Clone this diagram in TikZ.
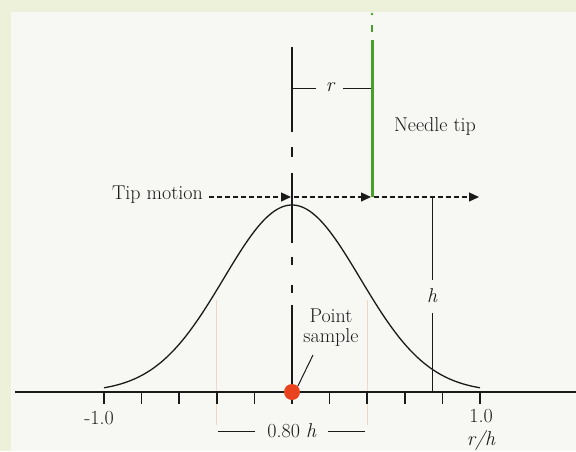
\documentclass[tikz,border=0pt]{standalone}
\usetikzlibrary{arrows.meta}
\definecolor{outerbg}{HTML}{EDF1D9}
\definecolor{innerbg}{HTML}{F7F8F3}
\definecolor{needle}{HTML}{46A02A}
\definecolor{dotred}{HTML}{E8431E}
\definecolor{faint}{HTML}{F0D6C6}
\definecolor{ink}{HTML}{1A1A1A}
\tikzset{
  lbl/.style={inner sep=0pt, font=\fontsize{20}{20}\selectfont, text=ink},
  ilbl/.style={lbl, font=\fontsize{20}{20}\selectfont\itshape},
  mainline/.style={draw=ink, line width=1.3pt},
  thinline/.style={draw=ink, line width=1pt},
  motion/.style={draw=ink, line width=1.3pt, dash pattern=on 5pt off 3pt, -{Triangle[length=10pt,width=9pt]}},
  tickline/.style={draw=ink, line width=1.5pt},
  guide/.style={draw=faint, line width=1pt},
}
\begin{document}
\begin{tikzpicture}[x=1pt,y=-1pt]
\useasboundingbox (0,0) rectangle (576,451);
\fill[outerbg] (0,0) rectangle (576,451);
\fill[innerbg] (11,12) rectangle (576,451);

% faint guides at +-0.4
\draw[guide] (216.8,300) -- (216.8,425);
\draw[guide] (367.2,300) -- (367.2,425);

% axis
\coordinate (axL) at (15,392);
\coordinate (axR) at (576,392);
\draw[tickline] (axL) -- (axR);
\foreach \i in {0,...,10} {
  \draw[tickline] ({104+37.6*\i},392) -- ({104+37.6*\i},404);
}

% curve
\draw[mainline] plot[domain=-188:188, samples=120, smooth] ({292+\x}, {392-187*exp(-((\x/188)^2)/0.264)});

% central dashed line
\foreach \a/\b in {47/132, 147/157, 173/243, 257/265, 285/293, 305/392} {
  \draw[mainline] (292,\a) -- (292,\b);
}

% needle
\coordinate (ntop) at (372,40);
\coordinate (nbot) at (372,197);
\draw[needle, line width=3pt] (ntop) -- (nbot);
\fill[needle] (372,14) circle (1.3pt);
\draw[needle, line width=2.5pt] (372,25) -- (372,32);

% r dimension
\node[ilbl] (rlabel) at (330,87) {r};
\draw[thinline] (292,88) -- (316,88);
\draw[thinline] (343,88) -- (371,88);

% labels
\node[lbl] (needletip) at (435,127) {Needle tip};
\node[lbl, anchor=east] (tipmotion) at (203,195) {Tip motion};

% tip motion arrows
\coordinate (c1) at (291,197);
\coordinate (c2) at (294,197);
\coordinate (c3) at (371,197);
\coordinate (c4) at (374,197);
\coordinate (c5) at (479,197);
\draw[motion] (tipmotion.east) ++(6,2) -- (c1);
\draw[motion] (c2) -- (c3);
\draw[motion] (c4) -- (c5);

% h dimension
\node[ilbl] (hlabel) at (432,296) {h};
\draw[thinline] (432,197) -- (432,280);
\draw[thinline] (432,313) -- (432,392);

% point sample
\node[lbl, align=center] (pslabel) at (331,328) {Point\\sample};
\node[circle, fill=dotred, minimum size=16pt, inner sep=0pt] (dot) at (292,392) {};
\draw[thinline] (313,355) -- (dot.north east);

% axis labels
\node[lbl] (m1) at (99,418) {-1.0};
\node[lbl] (p1) at (481,416) {1.0};
\node[ilbl] (rh) at (481,440) {r/h};
\node[lbl] (w80) at (292,431) {0.80 \textit{h}};
\draw[thinline] (218,431) -- (255,431);
\draw[thinline] (328,431) -- (365,431);
\end{tikzpicture}
\end{document}
